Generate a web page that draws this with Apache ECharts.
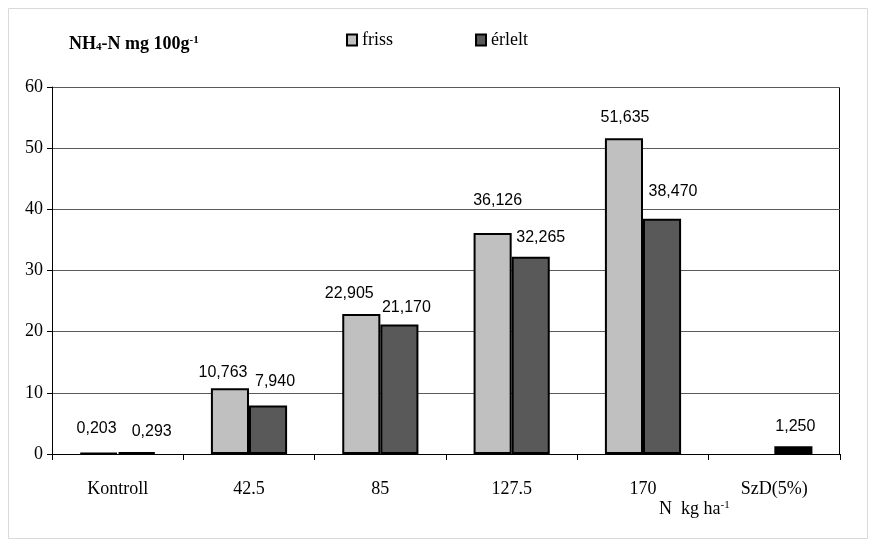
<!DOCTYPE html>
<html><head><meta charset="utf-8">
<script src="https://cdn.jsdelivr.net/npm/echarts@6/dist/echarts.min.js"></script>
<style>html,body{margin:0;padding:0;background:#fff}#c{width:876px;height:545px}</style>
</head><body><div id="c"></div>
<script>
var categories = ['Kontroll', '42.5', '85', '127.5', '170', 'SzD(5%)'];
var frissValues = [0.203, 10.763, 22.905, 36.126, 51.635, null];
var erleltValues = [0.293, 7.940, 21.170, 32.265, 38.470, 1.250];
var yTicks = [0, 10, 20, 30, 40, 50, 60];

// label placement styling (pixel offsets, as placed in the original)
var frissLabelOffsets = [[-2, -16], [-7, -8], [-12, -12], [5, -24], [1, -13], [0, 0]];
var erleltLabelOffsets = [[15, -13], [7, -16], [7, -9], [10, -11], [11, -19], [2, -12]];

function fmt(v){ return v.toFixed(3).replace('.', ','); }
var chart = echarts.init(document.getElementById('c'));
var serif = '"Liberation Serif", "Times New Roman", serif';
var sans = '"Liberation Sans", Arial, sans-serif';
function mk(vals, offs, lastBlack){
  return vals.map(function(v, i){
    var o = {value: v, label: {offset: offs[i]}};
    if (lastBlack && i === vals.length - 1) o.itemStyle = {color: '#000'};
    return o;
  });
}
chart.setOption({
  animation: false,
  grid: {left: 52, right: 36, top: 87, bottom: 91, show: false},
  title: {
    text: '{a|NH}{sub|4}{a|-N mg 100g}{sup|-1}',
    left: 64, top: 30,
    textStyle: {rich: {
      a: {fontFamily: serif, fontWeight: 'bold', fontSize: 18, color: '#000'},
      sub: {fontFamily: serif, fontWeight: 'bold', fontSize: 11, color: '#000', verticalAlign: 'bottom'},
      sup: {fontFamily: serif, fontWeight: 'bold', fontSize: 11, color: '#000', verticalAlign: 'top'}
    }}
  },
  legend: {
    left: 341, top: 26, icon: 'rect', itemWidth: 10, itemHeight: 11, itemGap: 82,
    textStyle: {fontFamily: serif, fontSize: 18, color: '#000'},
    data: ['friss', 'érlelt']
  },
  graphic: [
    {type: 'rect', shape: {x: 8.5, y: 8.5, width: 859, height: 530}, style: {fill: 'none', stroke: '#d9d9d9', lineWidth: 1}, silent: true, z: -1},
    {type: 'line', shape: {x1: 839.5, y1: 87, x2: 839.5, y2: 454}, style: {stroke: '#000', lineWidth: 1}},
    {type: 'text', left: 659, top: 500, style: {
      text: '{a|N  kg ha}{sup|-1}',
      rich: {a: {fontFamily: serif, fontSize: 18, fill: '#000'}, sup: {fontFamily: serif, fontSize: 11, fill: '#000', verticalAlign: 'top'}}
    }}
  ],
  xAxis: {
    type: 'category', data: categories,
    axisLine: {lineStyle: {color: '#000', width: 1}},
    axisTick: {show: true, length: 6, lineStyle: {color: '#000'}},
    axisLabel: {fontFamily: serif, fontSize: 18, color: '#000', margin: 26}
  },
  yAxis: {
    type: 'value', min: 0, max: 60, interval: 10,
    axisLine: {show: true, lineStyle: {color: '#000'}},
    axisTick: {show: true, length: 5, lineStyle: {color: '#000'}},
    axisLabel: {fontFamily: serif, fontSize: 18, color: '#000', margin: 9,
      formatter: function(v){ return yTicks.indexOf(v) >= 0 ? String(v) : ''; }},
    splitLine: {show: true, lineStyle: {color: '#5a5a5a', width: 1}}
  },
  series: [
    {name: 'friss', type: 'bar', data: mk(frissValues, frissLabelOffsets, false), barGap: '0%', barCategoryGap: '42%',
     itemStyle: {color: '#c0c0c0', borderColor: '#000', borderWidth: 2},
     label: {show: true, position: 'top', distance: 0, fontFamily: sans, fontSize: 16, color: '#000',
       formatter: function(p){ return p.value == null ? '' : fmt(p.value); }}},
    {name: 'érlelt', type: 'bar', data: mk(erleltValues, erleltLabelOffsets, true), barGap: '0%', barCategoryGap: '42%',
     itemStyle: {color: '#595959', borderColor: '#000', borderWidth: 2},
     label: {show: true, position: 'top', distance: 0, fontFamily: sans, fontSize: 16, color: '#000',
       formatter: function(p){ return fmt(p.value); }}}
  ]
});
</script></body></html>
